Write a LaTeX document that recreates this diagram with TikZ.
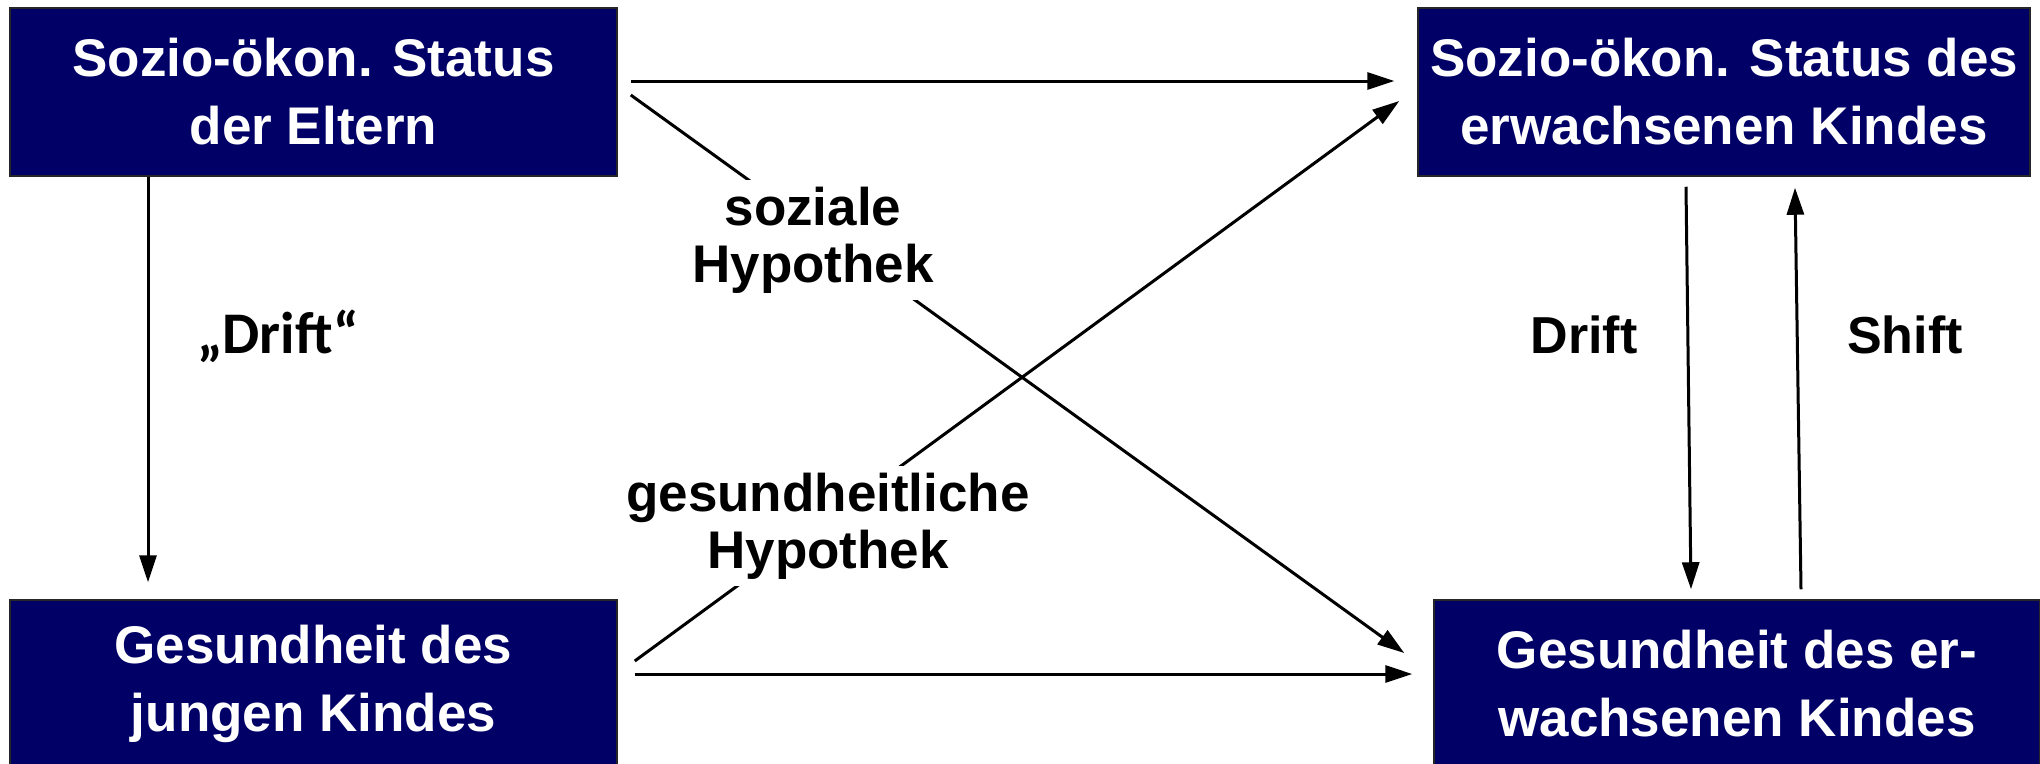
\documentclass[tikz,border=0pt]{standalone}
\usepackage{fontspec}
\setmainfont{Liberation Sans}
\newfontfamily\calfont{Carlito}
\usetikzlibrary{arrows.meta}
\definecolor{navy}{RGB}{0,0,102}
\begin{document}
\begin{tikzpicture}[x=1pt,y=-1pt,
  box/.style={draw=black!85, line width=1.5pt, fill=navy, text=white,
    font=\bfseries\fontsize{53}{68}\selectfont, align=center, inner sep=0pt},
  arr/.style={line width=3pt, -{Triangle[length=27pt,width=17pt]}},
  lab/.style={font=\bfseries\fontsize{53}{57}\selectfont, align=center,
    fill=white, inner xsep=2pt, inner ysep=7pt},
  plainlab/.style={font=\bfseries\fontsize{52}{60}\selectfont, anchor=base}]
\useasboundingbox (0,0) rectangle (2040,763);

\node[box, minimum width=607pt, minimum height=168pt] (TL) at (313.5,92) {Sozio-ökon. Status\\der Eltern};
\node[box, minimum width=612pt, minimum height=168pt] (TR) at (1724,92) {Sozio-ökon. Status des\\erwachsenen Kindes};
\node[box, minimum width=607pt, minimum height=168pt] (BL) at (313.5,684) {Gesundheit des\\jungen Kindes};
\node[box, minimum width=606pt, minimum height=168pt] (BR) at (1737,684) {Gesundheit des er-\\wachsenen Kindes};

% connectors
\draw[arr] ([shift={(13,-11)}]TL.east) -- ([shift={(-23,-11)}]TR.west);
\draw[arr] ([shift={(13,3)}]TL.east) -- ([shift={(-29,-31)}]BR.west);
\draw[arr] ([shift={(17,-23)}]BL.east) -- ([shift={(-18,9)}]TR.west);
\draw[arr] ([shift={(17,-10)}]BL.east) -- ([shift={(-21,-10)}]BR.west);
\draw[arr] ([shift={(-165.5,0)}]TL.south) -- ([shift={(-165.5,-17)}]BL.north);
\draw[arr] ([shift={(-38,10)}]TR.south) -- ([shift={(-46,-10)}]BR.north);
\draw[arr] ([shift={(64,-10)}]BR.north) -- ([shift={(71,11)}]TR.south);

% labels
\node[lab] (soz) at (813,240) {soziale\\Hypothek};
\node[lab] (ges) at (828,526) {gesundheitliche\\Hypothek};
\node[anchor=base, font=\calfont\bfseries\fontsize{59}{66}\selectfont] (drift1) at (278,353) {„Drift“};
\node[plainlab] (drift2) at (1584,353) {Drift};
\node[plainlab] (shift) at (1905,353) {Shift};
\end{tikzpicture}
\end{document}
